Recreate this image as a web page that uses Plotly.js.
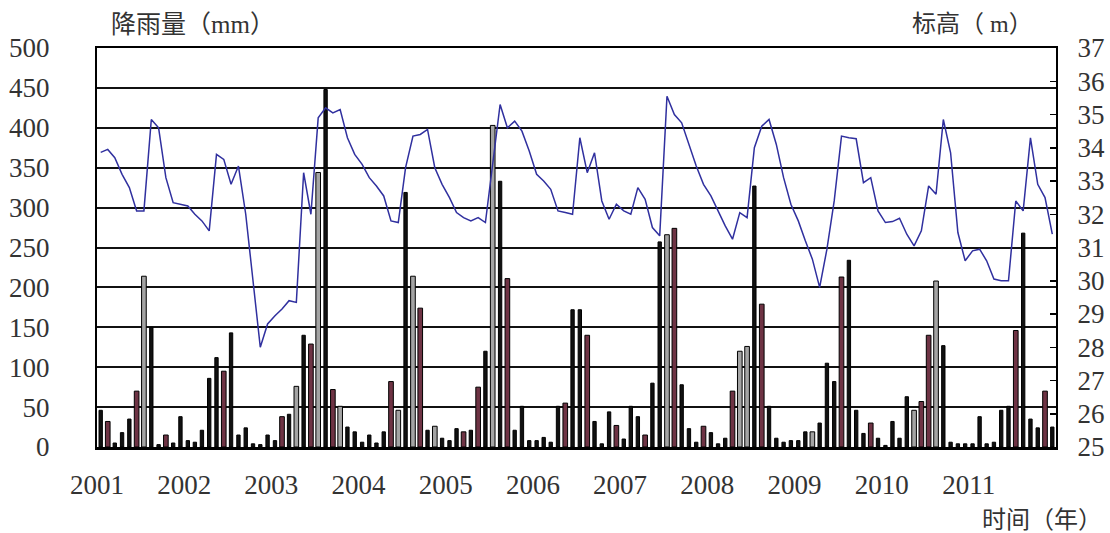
<!DOCTYPE html>
<html>
<head>
<meta charset="utf-8">
<script src="https://cdn.plot.ly/plotly-3.0.1.min.js"></script>
<style>
  html, body { margin: 0; padding: 0; background: #ffffff; }
  #chart { width: 1110px; height: 533px; }
</style>
</head>
<body>
<div id="chart"></div>
<script>
// Monthly rainfall (mm) and water-level elevation (m), Jan 2001 – Dec 2011
const years = [2001, 2002, 2003, 2004, 2005, 2006, 2007, 2008, 2009, 2010, 2011];

const rainfall = [
  46, 32, 5, 18, 35, 70, 214, 150, 3, 15, 5, 38,          // 2001
  8, 6, 21, 86, 112, 95, 143, 15, 24, 4, 3, 15,           // 2002
  8, 38, 41, 76, 140, 129, 344, 448, 72, 51, 25, 19,      // 2003
  6, 15, 5, 19, 82, 46, 319, 214, 174, 21, 26, 11,        // 2004
  8, 23, 19, 21, 75, 120, 403, 333, 211, 21, 51, 8,       // 2005
  8, 12, 6, 51, 55, 172, 172, 140, 32, 4, 44, 27,         // 2006
  10, 51, 38, 15, 80, 257, 266, 274, 78, 23, 6, 26,       // 2007
  18, 4, 11, 70, 120, 126, 327, 179, 51, 11, 6, 8,        // 2008
  8, 19, 19, 30, 105, 82, 213, 234, 46, 17, 30, 11,       // 2009
  2, 32, 11, 63, 46, 57, 140, 208, 127, 6, 4, 4,          // 2010
  4, 38, 4, 6, 46, 51, 146, 268, 35, 24, 70, 25           // 2011
];

const elevation = [
  33.86, 33.95, 33.7, 33.2, 32.8, 32.1, 32.1, 34.85, 34.6, 33.1, 32.35, 32.3,     // 2001
  32.25, 32.0, 31.8, 31.5, 33.8, 33.65, 32.9, 33.45, 32.0, 30.0, 28.0, 28.7,      // 2002
  28.95, 29.15, 29.4, 29.35, 33.25, 32.0, 34.9, 35.2, 35.05, 35.15, 34.3, 33.8,   // 2003
  33.5, 33.1, 32.85, 32.55, 31.8, 31.75, 33.4, 34.35, 34.4, 34.55, 33.4, 32.9,    // 2004
  32.5, 32.05, 31.9, 31.8, 31.9, 31.75, 33.5, 35.3, 34.6, 34.8, 34.5, 33.9,       // 2005
  33.2, 33.0, 32.75, 32.1, 32.05, 32.0, 34.3, 33.25, 33.85, 32.4, 31.85, 32.3,    // 2006
  32.1, 32.0, 32.8, 32.45, 31.6, 31.35, 35.55, 35.0, 34.75, 34.1, 33.45, 32.9,    // 2007
  32.55, 32.1, 31.65, 31.25, 32.05, 31.9, 34.0, 34.65, 34.85, 34.1, 33.1, 32.3,   // 2008
  31.8, 31.2, 30.65, 29.8, 30.95, 32.4, 34.35, 34.3, 34.27, 32.95, 33.1, 32.1,    // 2009
  31.75, 31.78, 31.88, 31.4, 31.05, 31.5, 32.85, 32.6, 34.85, 33.85, 31.45, 30.6, // 2010
  30.9, 30.95, 30.6, 30.05, 30.0, 30.0, 32.4, 32.1, 34.3, 32.9, 32.5, 31.4        // 2011
];

// Bar fill per month: k = black, g = grey, m = wine
const barShade = [
  'kmkkkmgkkmkk', 'kkkkkmkkkkkk', 'kmkgkmgkmgkk', 'kkkkmgkgmkgk',
  'kkmkmkgkmkkk', 'kkkkmkkmkkkm', 'kkkmkkgmkkkm', 'kkkmggkmkkkk',
  'kkgkkkmkkkmk', 'kkkkgmmgkkkk', 'kkkkkkmkkkmk'
].join('').split('');

const shadeColor = { k: '#111111', g: '#a4a4a4', m: '#6e3344' };
const shadeWidth = { k: 0.46, g: 0.64, m: 0.64 };   // share of a month

// Month keys "YYYY-MM" for the date axis
const months = [];
years.forEach(y => {
  for (let m = 1; m <= 12; m++) months.push(y + '-' + String(m).padStart(2, '0'));
});

const tickFont = { family: 'Liberation Serif, DejaVu Serif, serif', size: 27, color: '#333333' };
const titleFont = { family: 'Liberation Serif, Noto Sans CJK SC, sans-serif', size: 24, color: '#333333' };
const MONTH_MS = 30.44 * 24 * 3600 * 1000;

const rainTrace = {
  type: 'bar',
  x: months,
  y: rainfall,
  xperiod: 'M1',
  xperiodalignment: 'middle',
  width: barShade.map(c => shadeWidth[c] * MONTH_MS),
  marker: {
    color: barShade.map(c => shadeColor[c]),
    line: { color: '#000000', width: 1 }
  },
  yaxis: 'y',
  hoverinfo: 'x+y'
};

const levelTrace = {
  type: 'scatter',
  mode: 'lines',
  x: months,
  y: elevation,
  xperiod: 'M1',
  xperiodalignment: 'middle',
  line: { color: '#30309f', width: 1.5 },
  yaxis: 'y2',
  hoverinfo: 'x+y'
};

const layout = {
  width: 1110,
  height: 533,
  margin: { l: 97, r: 54, t: 48, b: 86 },
  paper_bgcolor: '#ffffff',
  plot_bgcolor: '#ffffff',
  showlegend: false,
  xaxis: {
    type: 'date',
    range: ['2001-01-01', '2012-01-01'],
    tickmode: 'array',
    tickvals: years.map(y => y + '-01-01'),
    ticktext: years.map(String),
    ticks: '',
    showgrid: false,
    zeroline: false,
    showline: true,
    linecolor: '#000000',
    linewidth: 2.5,
    mirror: true,
    tickfont: tickFont,
    ticklabelstandoff: 12
  },
  yaxis: {
    range: [0, 500],
    dtick: 50,
    showgrid: true,
    gridcolor: '#111111',
    gridwidth: 2,
    zeroline: false,
    showline: true,
    linecolor: '#000000',
    linewidth: 2,
    ticks: '',
    tickfont: tickFont,
    ticklabelstandoff: 40
  },
  yaxis2: {
    overlaying: 'y',
    side: 'right',
    range: [25, 37],
    dtick: 1,
    showgrid: false,
    zeroline: false,
    showline: true,
    linecolor: '#000000',
    linewidth: 2,
    ticks: 'inside',
    ticklen: 6,
    tickwidth: 1.5,
    tickcolor: '#000000',
    tickfont: tickFont,
    ticklabelstandoff: 14
  },
  annotations: [
    { text: '降雨量（mm）', xref: 'paper', yref: 'paper', x: 0.0125, y: 1.058,
      xanchor: 'left', yanchor: 'middle', showarrow: false, font: { ...titleFont, size: 25 } },
    { text: '标高（ m）', xref: 'paper', yref: 'paper', x: 0.848, y: 1.06,
      xanchor: 'left', yanchor: 'middle', showarrow: false, font: titleFont },
    { text: '时间（年）', xref: 'paper', yref: 'paper', x: 1.05, y: -0.183,
      xanchor: 'right', yanchor: 'middle', showarrow: false, font: titleFont }
  ]
};

Plotly.newPlot('chart', [rainTrace, levelTrace], layout, { staticPlot: true, displayModeBar: false });
</script>
</body>
</html>
